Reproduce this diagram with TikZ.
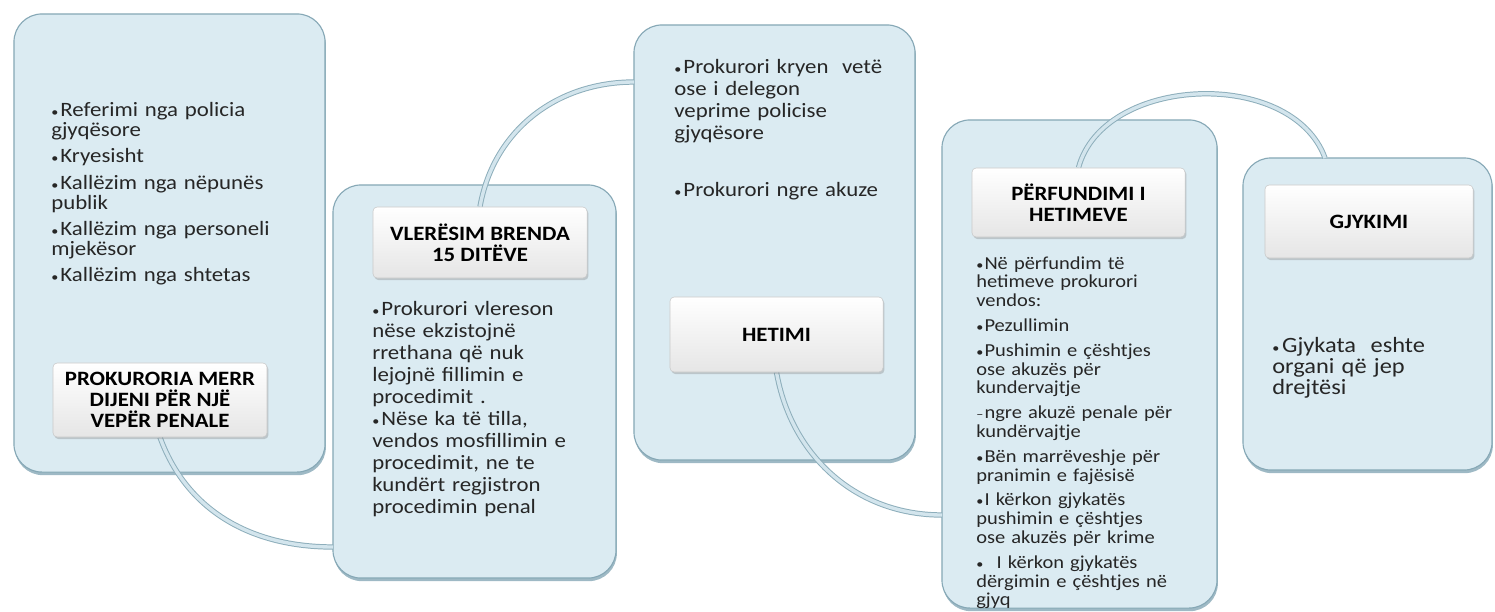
\documentclass[tikz,border=0pt]{standalone}
\usepackage{fontspec}
\setmainfont{Carlito}[FakeStretch=1.12]
\usetikzlibrary{shadows}

\definecolor{stagefill}{HTML}{DBEBF2}
\definecolor{stageline}{HTML}{86A8B6}
\definecolor{linkline}{HTML}{8DAEBB}
\definecolor{linkfill}{HTML}{D3E5ED}
\definecolor{tagline}{HTML}{C9C9C9}

\pgfdeclarelayer{panels}
\pgfdeclarelayer{links}
\pgfsetlayers{panels,links,main}

\setlength{\parindent}{0pt}
% one bullet line with hanging indent
\newcommand{\bitem}[2][\textbullet]{\par\hangindent=0.45em\hangafter=1\noindent\makebox[0.45em][l]{\fontsize{9}{9}\selectfont #1}#2}

\tikzset{
  stage/.style={draw=stageline, line width=0.8pt, fill=stagefill, rounded corners=0.7cm,
    drop shadow={shadow xshift=0.6pt, shadow yshift=-2.2pt, fill=stageline, opacity=0.8}},
  tag/.style={draw=tagline, line width=0.4pt, top color=white, bottom color=black!10,
    rounded corners=3pt, align=center, font=\fontsize{14.5}{15}\selectfont\bfseries,
    drop shadow={shadow xshift=1pt, shadow yshift=-1.5pt, opacity=0.35}},
  notes/.style={anchor=north west, inner sep=0pt, text width=7cm, align=left,
    text=black!85, execute at begin node={\setlength{\parskip}{#1}}},
  notes/.default=0pt,
  link/.style={draw=linkline, double=linkfill, double distance=2.4pt, line width=0.7pt}
}

\begin{document}
\begin{tikzpicture}[x=0.025cm, y=-0.025cm]
    \useasboundingbox (0,0) rectangle (1495,612);
    % The five stage panels
    \begin{pgfonlayer}{panels}
    \node[stage, minimum width=7.775cm, minimum height=11.45cm] (stageA) at (169.5,243) {};
    \node[stage, minimum width=7.075cm, minimum height=9.825cm] (stageB) at (474.5,381.5) {};
    \node[stage, minimum width=7.025cm, minimum height=10.875cm] (stageC) at (774.5,242.5) {};
    \node[stage, minimum width=6.875cm, minimum height=12.2cm] (stageD) at (1079.5,364) {};
    \node[stage, minimum width=6.225cm, minimum height=7.8cm] (stageE) at (1367.5,314) {};
    \end{pgfonlayer}
    % Where the links enter the next panel
    \coordinate (inB) at (333,547);
    \coordinate (inC) at (634,82);
    \coordinate (inD) at (942,515);
    \coordinate (inE) at (1325,158);
    % Title buttons
    \node[tag, minimum width=5.35cm, minimum height=1.85cm] (tagA) at (160,400) {PROKURORIA MERR\\DIJENI PËR NJË\\VEPËR PENALE};
    \node[tag, minimum width=5.35cm, minimum height=1.775cm] (tagB) at (480,242.5) {VLERËSIM BRENDA\\15 DITËVE};
    \node[tag, minimum width=5.325cm, minimum height=1.875cm] (tagC) at (776.5,334.5) {HETIMI};
    \node[tag, minimum width=5.325cm, minimum height=1.725cm] (tagD) at (1078.5,202.5) {PËRFUNDIMI I\\HETIMEVE};
    \node[tag, minimum width=5.2cm, minimum height=1.825cm] (tagE) at (1369,221.5) {GJYKIMI};
    % Links between the stages
    \begin{pgfonlayer}{links}
    \draw[link] (tagA.south) to[out=-70, in=180] (inB);
    \draw[link] (tagB.north) to[out=80, in=180] (inC);
    \draw[link] (tagC.south) to[out=-80, in=180] (inD);
    \draw[link] (tagD.north) to[out=75, in=110] (inE);
    \end{pgfonlayer}
    % Bullet texts
    \node[notes=4.5pt, font=\fontsize{14.5}{14.2}\selectfont] (listA) at (51,90) {%
        \bitem{Referimi nga policia\\gjyqësore}
        \bitem{Kryesisht}
        \bitem{Kallëzim nga nëpunës\\publik}
        \bitem{Kallëzim nga personeli\\mjekësor}
        \bitem{Kallëzim nga shtetas}};
    \node[notes, font=\fontsize{14.5}{15.6}\selectfont] (listB) at (372,293.5) {%
        \bitem{Prokurori vlereson\\nëse ekzistojnë\\rrethana që nuk\\lejojnë fillimin e\\procedimit .}
        \bitem{Nëse ka të tilla,\\vendos mosfillimin e\\procedimit, ne te\\kundërt regjistron\\procedimin penal}};
    \node[notes=25pt, font=\fontsize{14.5}{15.6}\selectfont] (listC) at (674,16) {%
        \bitem{Prokurori kryen\ \ vetë\\ose i delegon\\veprime policise\\gjyqësore}
        \bitem{Prokurori ngre akuze}};
    \node[notes=4.2pt, font=\fontsize{13}{13.4}\selectfont] (listD) at (976,244) {%
        \bitem{Në përfundim të\\hetimeve prokurori\\vendos:}
        \bitem{Pezullimin}
        \bitem{Pushimin e çështjes\\ose akuzës për\\kundervajtje}
        \bitem[–]{ngre akuzë penale për\\kundërvajtje}
        \bitem{Bën marrëveshje për\\pranimin e fajësisë}
        \bitem{I kërkon gjykatës\\pushimin e çështjes\\ose akuzës për krime}
        \bitem{\ \ I kërkon gjykatës\\dërgimin e çështjes në\\gjyq}};
    \node[notes, font=\fontsize{15.5}{15}\selectfont] (listE) at (1272,331) {%
        \bitem{Gjykata\ \ eshte\\organi që jep\\drejtësi}};
\end{tikzpicture}
\end{document}
